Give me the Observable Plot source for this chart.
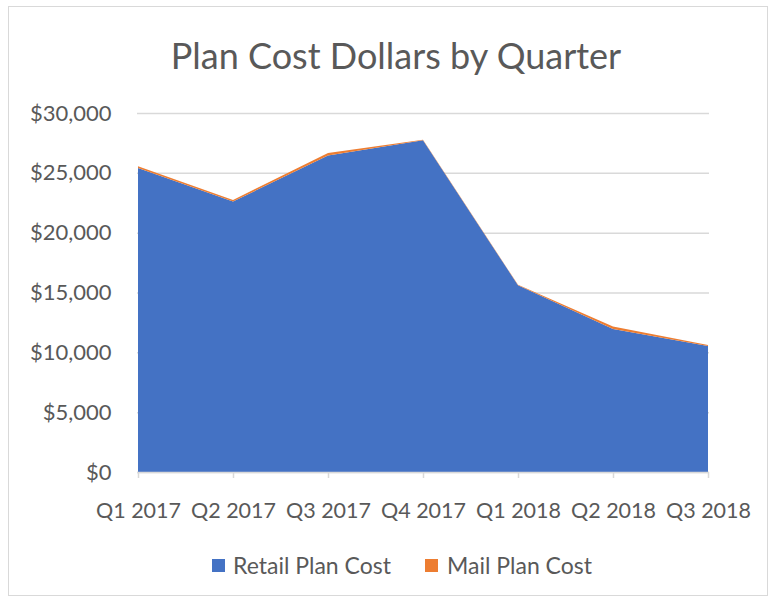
<!DOCTYPE html>
<html>
<head>
<meta charset="utf-8">
<script src="https://cdn.jsdelivr.net/npm/d3@7"></script>
<script src="https://cdn.jsdelivr.net/npm/@observablehq/plot@0.6"></script>
<style>
  body { margin: 0; background: #fff; font-family: Lato, "Open Sans", sans-serif; }
  #wrap { position: relative; width: 775px; height: 602px; overflow: hidden; }
  #border { position: absolute; left: 8px; top: 6px; width: 760px; height: 590px; border: 1px solid #d9d9d9; box-sizing: border-box; }
  #title { position: absolute; left: 0; top: 30px; width: 792px; text-align: center; font-size: 36px; color: #595959; line-height: 50px; }
  #plot { position: absolute; left: 0; top: 95px; }
  .leg { position: absolute; top: 551px; font-size: 23px; color: #595959; line-height: 28px; }
  .sw { position: absolute; width: 13px; height: 13px; top: 559px; }
</style>
</head>
<body>
<div id="wrap">
  <div id="border"></div>
  <div id="title">Plan Cost Dollars by Quarter</div>
  <div id="plot"></div>
  <div class="sw" id="sw0"></div><div class="leg" id="lg0"></div>
  <div class="sw" id="sw1"></div><div class="leg" id="lg1"></div>
</div>
<script>
const quarters = ["Q1 2017", "Q2 2017", "Q3 2017", "Q4 2017", "Q1 2018", "Q2 2018", "Q3 2018"];
const series = ["Retail Plan Cost", "Mail Plan Cost"];
const retailCost = [25400, 22600, 26450, 27720, 15600, 11950, 10520];
const mailCost = [150, 140, 200, 40, 40, 200, 100];
const colors = ["#4472C4", "#ED7D31"];
const yTicks = [0, 5000, 10000, 15000, 20000, 25000, 30000];

const data = [];
quarters.forEach((q, i) => {
  data.push({quarter: q, series: series[0], value: retailCost[i]});
  data.push({quarter: q, series: series[1], value: mailCost[i]});
});

const chart = Plot.plot({
  width: 775,
  height: 435,
  marginLeft: 137,
  marginRight: 66,
  marginTop: 18,
  marginBottom: 58,
  style: {fontFamily: "Lato, 'Open Sans', sans-serif", fontSize: "20px", color: "#595959", background: "transparent"},
  x: {type: "point", domain: quarters, padding: 0, label: null},
  y: {domain: [0, 30000], label: null},
  color: {domain: series, range: colors},
  marks: [
    Plot.gridY(yTicks, {stroke: "#d9d9d9", strokeOpacity: 1, strokeWidth: 1.5}),
    Plot.areaY(data, {x: "quarter", y: "value", fill: "series", order: series, curve: "linear"}),
    Plot.ruleY([0], {stroke: "#d9d9d9", strokeWidth: 1.5}),
    Plot.axisX({tickSize: 6, tickPadding: 24, stroke: "#d9d9d9", strokeWidth: 1.5, fill: "#595959", fontSize: 21.5}),
    Plot.axisY(yTicks, {tickSize: 0, tickPadding: 26, fill: "#595959", fontSize: 22, tickFormat: d => "$" + d3.format(",")(d)})
  ]
});
document.getElementById("plot").appendChild(chart);

const legX = [[212, 233], [425, 447]];
series.forEach((s, i) => {
  const sw = document.getElementById("sw" + i);
  sw.style.left = legX[i][0] + "px";
  sw.style.background = colors[i];
  const lg = document.getElementById("lg" + i);
  lg.style.left = legX[i][1] + "px";
  lg.textContent = s;
});
</script>
</body>
</html>
